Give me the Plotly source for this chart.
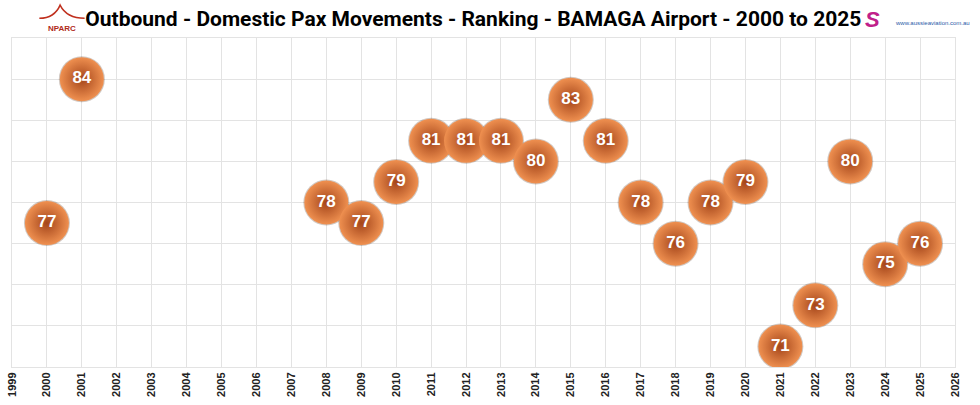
import plotly.graph_objects as go

# ranking of outbound domestic passenger movements, BAMAGA airport
years = [2000, 2001, 2008, 2009, 2010, 2011, 2012, 2013, 2014, 2015,
         2016, 2017, 2018, 2019, 2020, 2021, 2022, 2023, 2024, 2025]
ranking = [77, 84, 78, 77, 79, 81, 81, 81, 80, 83,
           81, 78, 76, 78, 79, 71, 73, 80, 75, 76]
tick_years = list(range(1999, 2027))

title = "Outbound - Domestic Pax Movements - Ranking - BAMAGA Airport - 2000 to 2025"

fig = go.Figure()

# soft shadow behind each ball
fig.add_trace(go.Scatter(
    x=years, y=ranking, mode="markers",
    marker=dict(size=46, color="rgba(70,35,10,0.25)", line=dict(width=0)),
    hoverinfo="skip", showlegend=False,
))

# the orange balls with their labels
fig.add_trace(go.Scatter(
    x=years, y=ranking, mode="markers+text",
    text=[str(r) for r in ranking],
    textposition="middle center",
    textfont=dict(family="Arial, sans-serif", size=17, color="white", weight="bold"),
    marker=dict(
        size=44,
        color="#ef9050",
        gradient=dict(type="radial", color="#a4451a"),
        line=dict(width=0),
    ),
    showlegend=False,
))

fig.update_layout(
    width=980, height=405,
    margin=dict(l=12, r=25, t=38, b=38),
    paper_bgcolor="white", plot_bgcolor="white",
    title=dict(
        text="<b>" + title + "</b>",
        x=0.483, xanchor="center", y=0.955, yanchor="middle",
        font=dict(family="Roboto, Arial, sans-serif", size=21, color="black"),
    ),
    xaxis=dict(
        range=[1999, 2026], tickvals=tick_years,
        ticktext=["<b>%d</b>" % y for y in tick_years],
        tickangle=-90, tickfont=dict(family="Arial, sans-serif", size=11, color="#222"),
        showgrid=True, gridcolor="#e3e3e3", gridwidth=1,
        zeroline=False, showline=True, linecolor="#e3e3e3", mirror=True,
        ticks="", automargin=False,
    ),
    yaxis=dict(
        range=[70, 86], dtick=2, showticklabels=False,
        showgrid=True, gridcolor="#e3e3e3", gridwidth=1,
        zeroline=False, showline=True, linecolor="#e3e3e3", mirror=True,
        ticks="", automargin=False,
    ),
)

# stand-ins for the two logos
fig.add_shape(
    type="path", xref="paper", yref="paper",
    path="M 0.029 1.06 Q 0.045 1.06 0.051 1.10 Q 0.058 1.06 0.077 1.06",
    line=dict(color="#c0301e", width=1.5),
)
fig.add_annotation(
    xref="paper", yref="paper", x=0.053, y=1.03, xanchor="center", yanchor="middle",
    text="<b>NPARC</b>", showarrow=False,
    font=dict(family="Arial, sans-serif", size=8, color="#b02a1a"),
)
fig.add_annotation(
    xref="paper", yref="paper", x=0.912, y=1.055, xanchor="center", yanchor="middle",
    text="<b><i>S</i></b>", showarrow=False,
    font=dict(family="Arial, sans-serif", size=22, color="#c0208a"),
)
fig.add_annotation(
    xref="paper", yref="paper", x=0.934, y=1.045, xanchor="left", yanchor="middle",
    text="www.aussieaviation.com.au", showarrow=False,
    font=dict(family="Arial, sans-serif", size=6, color="#2a5aa8"),
)

fig.write_html("out.html", config={"displayModeBar": False},
               post_script="document.body.style.margin='0';")
